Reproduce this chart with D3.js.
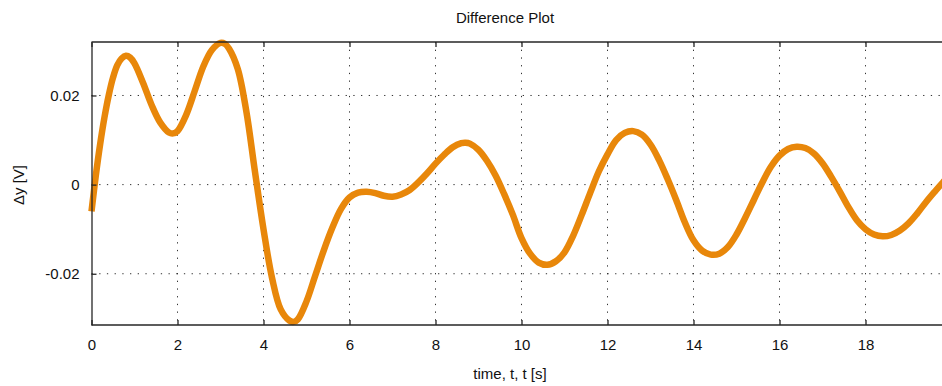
<!DOCTYPE html>
<html><head><meta charset="utf-8">
<script src="https://cdn.jsdelivr.net/npm/d3@7"></script>
<style>
body{margin:0;background:#fff;}
svg{display:block;font-family:"Liberation Sans",Arial,sans-serif;}
</style></head>
<body><svg id="c" width="942" height="386"></svg>
<script>
const tValues = [0,0.1,0.2,0.3,0.4,0.5,0.6,0.7,0.8,0.9,1.0,1.2,1.4,1.6,1.8,1.9,2.0,2.2,2.4,2.6,2.8,3.0,3.1,3.2,3.4,3.6,3.8,4.0,4.2,4.4,4.6,4.7,4.8,5.0,5.2,5.4,5.6,5.8,6.0,6.2,6.4,6.6,6.8,7.0,7.2,7.4,7.6,7.8,8.0,8.2,8.4,8.6,8.7,8.8,9.0,9.2,9.4,9.6,9.8,10.0,10.2,10.4,10.6,10.8,11.0,11.2,11.4,11.6,11.8,12.0,12.2,12.4,12.6,12.8,13.0,13.2,13.4,13.6,13.8,14.0,14.2,14.4,14.6,14.8,15.0,15.2,15.4,15.6,15.8,16.0,16.2,16.4,16.6,16.8,17.0,17.2,17.4,17.6,17.8,18.0,18.2,18.4,18.6,18.8,19.0,19.2,19.4,19.6,19.8,20.0];
const dyValues = [-0.006,0.002,0.009,0.015,0.020,0.024,0.0268,0.0283,0.0289,0.0285,0.0272,0.0228,0.0178,0.0139,0.0117,0.0115,0.0120,0.0156,0.0210,0.0265,0.0302,0.0318,0.0316,0.0305,0.0260,0.0165,0.0030,-0.0100,-0.0210,-0.0280,-0.0305,-0.0308,-0.0302,-0.0262,-0.0205,-0.0148,-0.0097,-0.0055,-0.0029,-0.0018,-0.0016,-0.0019,-0.0025,-0.0027,-0.0022,-0.0012,0.0005,0.0025,0.0047,0.0067,0.0084,0.0093,0.0094,0.0092,0.0078,0.0053,0.0020,-0.0022,-0.0068,-0.0120,-0.0155,-0.0175,-0.0180,-0.0172,-0.0152,-0.0115,-0.0068,-0.0018,0.0030,0.0068,0.0100,0.0116,0.0120,0.0112,0.0090,0.0055,0.0012,-0.0035,-0.0085,-0.0125,-0.0148,-0.0157,-0.0155,-0.0140,-0.0112,-0.0075,-0.0035,0.0005,0.0040,0.0065,0.0080,0.0085,0.0082,0.0070,0.0048,0.0018,-0.0015,-0.0050,-0.0080,-0.0100,-0.0112,-0.0116,-0.0113,-0.0103,-0.0087,-0.0065,-0.0040,-0.0017,0.0005,0.0025];
const xTicks = [0,2,4,6,8,10,12,14,16,18];
const yTicks = [-0.02,0,0.02];
const yTickLabels = ["-0.02","0","0.02"];
const title = "Difference Plot";
const xLabel = "time, t, t [s]";
const yLabel = "\u0394y [V]";

const svg = d3.select("#c");
const L = 91.5, T = 42, B = 325;
const x = d3.scaleLinear().domain([0,20]).range([L, L + 20*43.0]);
const y = d3.scaleLinear().domain([-0.0315, 0.0320]).range([B, T]);
const R = x(20);
const ink = "#262626";

// grid
const g = svg.append("g");
g.selectAll("line.vg").data(xTicks.filter(d=>d>0)).join("line")
  .attr("x1",d=>x(d)).attr("x2",d=>x(d)).attr("y1",T).attr("y2",B)
  .attr("stroke","#333").attr("stroke-width",1).attr("stroke-dasharray","1.3,6.4");
g.selectAll("line.hg").data(yTicks).join("line")
  .attr("x1",L).attr("x2",R).attr("y1",d=>y(d)).attr("y2",d=>y(d))
  .attr("stroke","#333").attr("stroke-width",1).attr("stroke-dasharray","1.3,6.4");

// line
const line = d3.line().x((d,i)=>x(tValues[i])).y(d=>y(d)).curve(d3.curveCatmullRom.alpha(0.5));
svg.append("path").datum(dyValues).attr("d",line)
  .attr("fill","none").attr("stroke","#e8870a").attr("stroke-width",6.5)
  .attr("stroke-linejoin","round").attr("stroke-linecap","butt");

// axes (inward ticks)
const xb = d3.axisBottom(x).tickValues(xTicks).tickSizeInner(-5).tickSizeOuter(0).tickPadding(14).tickFormat(d3.format("d"));
const xt = d3.axisTop(x).tickValues(xTicks).tickSizeInner(-5).tickSizeOuter(0).tickFormat("");
const yl = d3.axisLeft(y).tickValues(yTicks).tickSizeInner(-5).tickSizeOuter(0).tickPadding(12).tickFormat((d,i)=>yTickLabels[i]);
const ax1 = svg.append("g").attr("transform",`translate(0,${B})`).call(xb);
const ax2 = svg.append("g").attr("transform",`translate(0,${T})`).call(xt);
const ax3 = svg.append("g").attr("transform",`translate(${L},0)`).call(yl);
[ax1,ax2,ax3].forEach(a=>{
  a.select(".domain").attr("stroke",ink).attr("stroke-width",1.3);
  a.selectAll(".tick line").attr("stroke",ink).attr("stroke-width",1.3);
  a.selectAll("text").attr("fill","#111").style("font-size","15px").style("font-family","'Liberation Sans',Arial,sans-serif");
});
// extend top/bottom domains to the right edge of the plot
ax1.select(".domain").attr("d",`M${L},0H${R}`);
ax2.select(".domain").attr("d",`M${L},0H${R}`);

svg.append("text").attr("x",505).attr("y",23).attr("text-anchor","middle")
  .style("font-size","15px").attr("fill","#111").text(title);
svg.append("text").attr("x",510).attr("y",379).attr("text-anchor","middle")
  .style("font-size","15px").attr("fill","#111").text(xLabel);
svg.append("text").attr("transform",`translate(24,185) rotate(-90)`).attr("text-anchor","middle")
  .style("font-size","15px").attr("fill","#111").text(yLabel);
</script></body></html>
